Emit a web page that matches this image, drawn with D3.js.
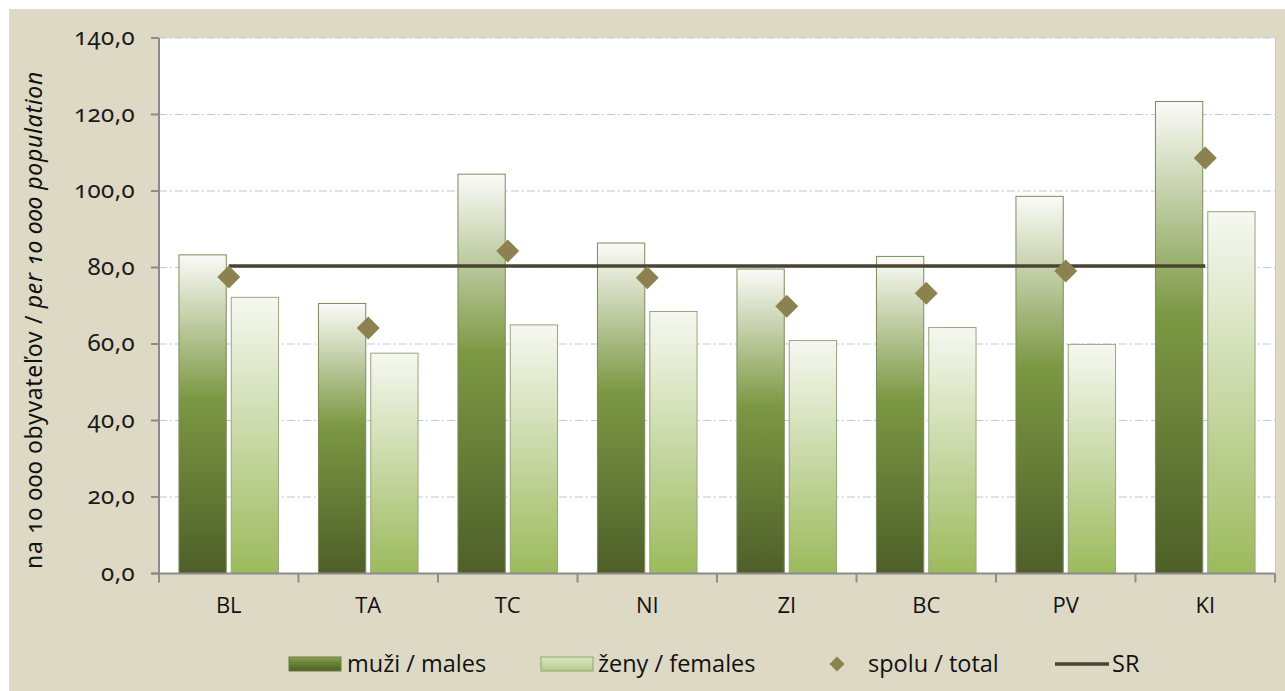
<!DOCTYPE html>
<html><head><meta charset="utf-8">
<script src="https://cdn.jsdelivr.net/npm/d3@7"></script>
<style>
html,body{margin:0;padding:0;background:#fff;}
svg{display:block;}
.num{font-family:"Noto Sans",sans-serif;font-variant-numeric:oldstyle-nums;font-feature-settings:"onum" 1;}
.lab{font-family:"Open Sans","Noto Sans",sans-serif;}
</style></head>
<body>
<svg id="c" width="1285" height="691"></svg>
<script>
const categories = ["BL","TA","TC","NI","ZI","BC","PV","KI"];
const males   = [83.3, 70.6, 104.4, 86.4, 79.6, 82.9, 98.6, 123.4];
const females = [72.2, 57.6, 65.0, 68.5, 60.9, 64.3, 59.9, 94.6];
const total   = [77.5, 64.2, 84.3, 77.3, 69.9, 73.3, 79.1, 108.6];
const srValue = 80.4;
const yTicks  = [0,20,40,60,80,100,120,140];
const seriesNames = ["muži / males","ženy / females","spolu / total","SR"];

const svg = d3.select("#c");
const W=1285,H=691;
const L=159,R=1275,T=38,B=573.5;

svg.append("rect").attr("x",9).attr("y",9).attr("width",W-9).attr("height",H-9).attr("fill","#ddd9c4");
svg.append("rect").attr("x",L).attr("y",T).attr("width",R-L).attr("height",B-T).attr("fill","#fff");

const defs = svg.append("defs");
const gm = defs.append("linearGradient").attr("id","gm").attr("x1",0).attr("y1",0).attr("x2",0).attr("y2",1);
gm.append("stop").attr("offset","0%").attr("stop-color","#fbfbf8");
gm.append("stop").attr("offset","45%").attr("stop-color","#7c9843");
gm.append("stop").attr("offset","100%").attr("stop-color","#4e5f29");
const gf = defs.append("linearGradient").attr("id","gf").attr("x1",0).attr("y1",0).attr("x2",0).attr("y2",1);
gf.append("stop").attr("offset","0%").attr("stop-color","#f6f8f1");
gf.append("stop").attr("offset","100%").attr("stop-color","#9cba5c");
const glm = defs.append("linearGradient").attr("id","glm").attr("x1",0).attr("y1",0).attr("x2",0).attr("y2",1);
glm.append("stop").attr("offset","0%").attr("stop-color","#8aa35a");
glm.append("stop").attr("offset","40%").attr("stop-color","#6a8434");
glm.append("stop").attr("offset","100%").attr("stop-color","#4e6128");
const glf = defs.append("linearGradient").attr("id","glf").attr("x1",0).attr("y1",0).attr("x2",0).attr("y2",1);
glf.append("stop").attr("offset","0%").attr("stop-color","#dbe8c4");
glf.append("stop").attr("offset","100%").attr("stop-color","#b3cc85");

const x = d3.scaleBand().domain(categories).range([L,R]).paddingInner(0).paddingOuter(0);
const y = d3.scaleLinear().domain([0,140]).range([B,T]);
const bw = x.bandwidth();
const pad = bw*0.143, gap = bw*0.036;
const barW = (bw - 2*pad - gap)/2;

// gridlines
svg.append("g").selectAll("line").data(yTicks.filter(d=>d>0)).join("line")
  .attr("x1",L).attr("x2",R).attr("y1",d=>y(d)).attr("y2",d=>y(d))
  .attr("stroke","#b9c9e2").attr("stroke-width",1).attr("stroke-dasharray","8,3,2,3");

// right edge
svg.append("line").attr("x1",R+0.5).attr("x2",R+0.5).attr("y1",T).attr("y2",B).attr("stroke","#c8c8c8");

// bars
svg.append("g").selectAll("rect").data(categories).join("rect")
  .attr("x",d=>x(d)+pad).attr("y",(d,i)=>y(males[i])).attr("width",barW)
  .attr("height",(d,i)=>B-y(males[i])).attr("fill","url(#gm)").attr("stroke","#7d8a5c").attr("stroke-width",1);
svg.append("g").selectAll("rect").data(categories).join("rect")
  .attr("x",d=>x(d)+pad+barW+gap).attr("y",(d,i)=>y(females[i])).attr("width",barW)
  .attr("height",(d,i)=>B-y(females[i])).attr("fill","url(#gf)").attr("stroke","#98a67c").attr("stroke-width",1);

// SR line
svg.append("line").attr("x1",x(categories[0])+bw/2).attr("x2",x(categories[categories.length-1])+bw/2)
  .attr("y1",y(srValue)).attr("y2",y(srValue)).attr("stroke","#4a4430").attr("stroke-width",3.5);

// diamonds
const ds=11.5;
svg.append("g").selectAll("path").data(categories).join("path")
  .attr("d",(d,i)=>{const cx=x(d)+bw/2, cy=y(total[i]); return `M${cx},${cy-ds}L${cx+ds},${cy}L${cx},${cy+ds}L${cx-ds},${cy}Z`;})
  .attr("fill","#8c8250");

// axes
const ax = svg.append("g").attr("stroke","#8c8c8c").attr("stroke-width",2);
ax.append("line").attr("x1",L).attr("x2",L).attr("y1",T).attr("y2",B+9);
ax.append("line").attr("x1",L-8).attr("x2",R).attr("y1",B).attr("y2",B);
ax.selectAll(".yt").data(yTicks).join("line").attr("x1",L-8).attr("x2",L).attr("y1",d=>y(d)).attr("y2",d=>y(d));
ax.selectAll(".xt").data(categories.slice(1).concat(["_end"])).join("line")
  .attr("x1",(d,i)=>L+bw*(i+1)).attr("x2",(d,i)=>L+bw*(i+1)).attr("y1",B).attr("y2",B+9);

// y tick labels
const fmt = d=>d3.format(".1f")(d).replace(".",",");
svg.append("g").selectAll("text").data(yTicks).join("text").attr("class","num")
  .attr("x",135).attr("y",d=>y(d)).attr("dy","0.3em").attr("text-anchor","end")
  .attr("font-size",24).attr("letter-spacing",0.4).attr("fill","#1a1a1a").text(fmt);

// x labels
svg.append("g").selectAll("text").data(categories).join("text").attr("class","lab")
  .attr("x",d=>x(d)+bw/2).attr("y",605).attr("dy","0.35em").attr("text-anchor","middle")
  .attr("font-size",22).attr("fill","#111").text(d=>d);

// y title
const yt = svg.append("text").attr("class","num").attr("transform","translate(42,320) rotate(-90)")
  .attr("text-anchor","middle").attr("font-size",23).attr("letter-spacing",0.7).attr("fill","#111");
yt.append("tspan").text("na 10 000 obyvateľov / ");
yt.append("tspan").attr("font-style","italic").text("per 10 000 population");

// legend
const lg = svg.append("g");
const ly = 664;
lg.append("rect").attr("x",289).attr("y",ly-7).attr("width",52).attr("height",14).attr("fill","url(#glm)").attr("stroke","#6d7d45");
lg.append("text").attr("class","lab").attr("x",347).attr("y",ly).attr("dy","0.35em").attr("font-size",23.5).attr("fill","#111").text(seriesNames[0]);
lg.append("rect").attr("x",541).attr("y",ly-7).attr("width",52).attr("height",14).attr("fill","url(#glf)").attr("stroke","#93a66c");
lg.append("text").attr("class","lab").attr("x",598).attr("y",ly).attr("dy","0.35em").attr("font-size",23.5).attr("fill","#111").text(seriesNames[1]);
lg.append("path").attr("d",`M837,${ly-7.5}L844.5,${ly}L837,${ly+7.5}L829.5,${ly}Z`).attr("fill","#8c8250");
lg.append("text").attr("class","lab").attr("x",868).attr("y",ly).attr("dy","0.35em").attr("font-size",23.5).attr("fill","#111").text(seriesNames[2]);
lg.append("line").attr("x1",1055).attr("x2",1109).attr("y1",ly).attr("y2",ly).attr("stroke","#4a4430").attr("stroke-width",3.5);
lg.append("text").attr("class","lab").attr("x",1112).attr("y",ly).attr("dy","0.35em").attr("font-size",23.5).attr("fill","#111").text(seriesNames[3]);
</script>
</body></html>
